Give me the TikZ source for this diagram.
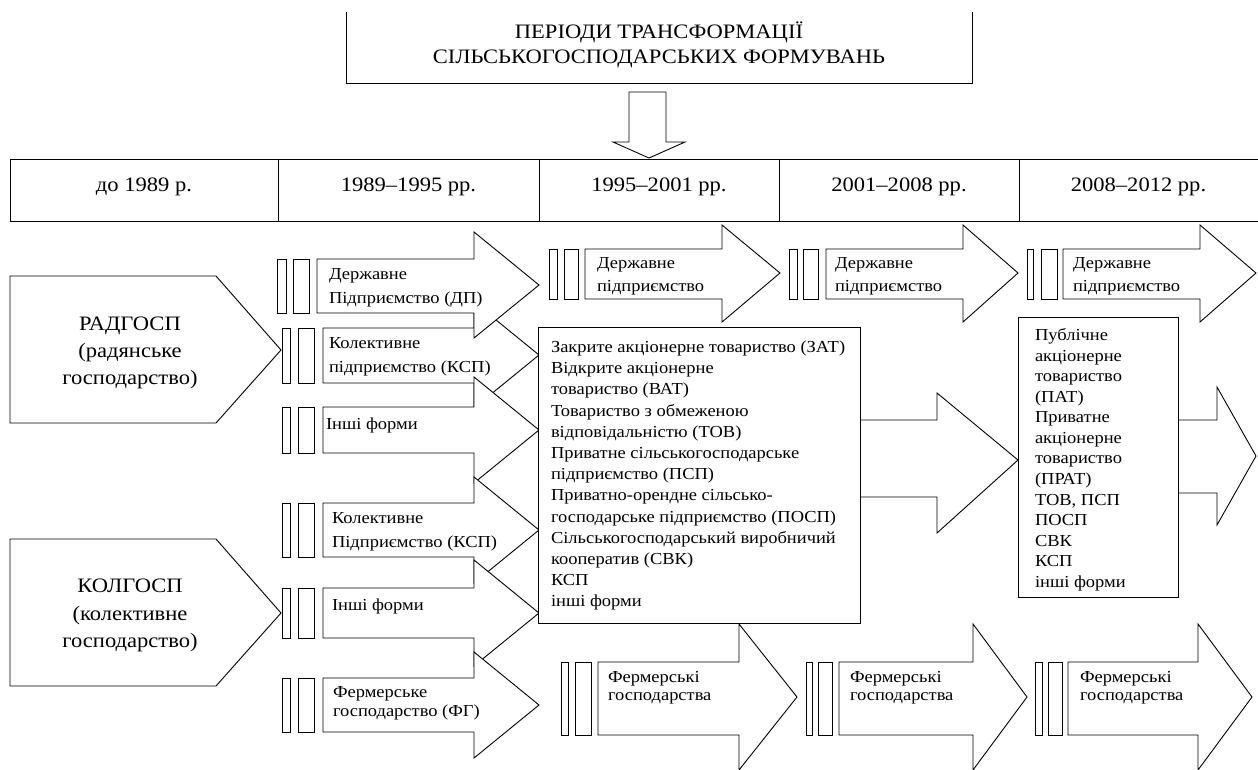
\documentclass[tikz,border=0pt]{standalone}
\usepackage{fontspec}
\setmainfont{Liberation Serif}[FakeStretch=1.1]
\newcommand\fsmall{\fontsize{16.8}{19}\selectfont}
\newcommand\fbig{\fontsize{20.5}{24}\selectfont}
% block arrow: xl, xb, xt, body top, body bottom, head top, head bottom, tip y
\newcommand\blockarrow[8]{\draw[shp] (#1,#4) -- (#2,#4) -- (#2,#6) -- (#3,#8) -- (#2,#7) -- (#2,#5) -- (#1,#5) -- cycle;}
% two thin bars: x1a x1b x2a x2b top bottom
\newcommand\twobars[6]{\draw[shp] (#1,#5) rectangle (#2,#6); \draw[shp] (#3,#5) rectangle (#4,#6);}
\begin{document}
\begin{tikzpicture}[x=1pt,y=-1pt,
  shp/.style={draw=black, line width=0.9pt, fill=white, line join=miter},
  ln/.style={draw=black, line width=0.9pt},
  txt/.style={inner sep=0pt, outer sep=0pt, text=black},
  sm/.style={txt, font=\fsmall, anchor=base west},
  bg/.style={txt, font=\fbig, anchor=base}]
\useasboundingbox (0,0) rectangle (1258,769);
\fill[white] (0,0) rectangle (1258,769);
\begin{scope}
\clip (0,0) rectangle (1258,769);

% ---- title box
\draw[ln] (346,12) -- (346,83) -- (972,83) -- (972,12);
\node[bg] (t1) at (659,38) {ПЕРІОДИ ТРАНСФОРМАЦІЇ};
\node[bg] (t2) at (659,63) {СІЛЬСЬКОГОСПОДАРСЬКИХ ФОРМУВАНЬ};
% down arrow
\draw[shp] (629,92) -- (666,92) -- (666,142) -- (685,142) -- (649,158) -- (613,142) -- (629,142) -- cycle;

% ---- header row
\draw[ln] (1262,159) -- (10,159) -- (10,221) -- (1262,221);
\foreach \x in {278,539,779,1019} \draw[ln] (\x,159) -- (\x,221);
\node[bg] (h1) at (144,191) {до 1989 р.};
\node[bg] (h2) at (408.5,191) {1989–1995 рр.};
\node[bg] (h3) at (659,191) {1995–2001 рр.};
\node[bg] (h4) at (899,191) {2001–2008 рр.};
\node[bg] (h5) at (1138.5,191) {2008–2012 рр.};

% ---- column 1 pentagons
\draw[shp] (10,276) -- (216,276) -- (281,350) -- (216,423) -- (10,423) -- cycle;
\node[bg] (r1) at (130,330) {РАДГОСП};
\node[bg] (r2) at (130,357) {(радянське};
\node[bg] (r3) at (130,384) {господарство)};
\draw[shp] (10,539) -- (216,539) -- (281,613) -- (216,686) -- (10,686) -- cycle;
\node[bg] (k1) at (130,592) {КОЛГОСП};
\node[bg] (k2) at (130,620) {(колективне};
\node[bg] (k3) at (130,647) {господарство)};

% ---- column 2
\blockarrow{323}{474}{539}{328}{383}{302}{408}{355}
\twobars{282}{290}{298}{314}{328}{383}
\blockarrow{317}{474}{539}{259}{313}{232}{338}{285}
\twobars{277}{286}{293}{309}{259}{313}
\blockarrow{323}{474}{539}{407}{453}{377}{483}{430}
\twobars{282}{290}{298}{314}{407}{453}
\blockarrow{323}{474}{539}{503}{557}{477}{583}{530}
\twobars{282}{290}{298}{314}{503}{557}
\blockarrow{323}{474}{539}{588}{638}{560}{666}{613}
\twobars{282}{290}{298}{314}{588}{638}
\blockarrow{323}{474}{539}{678}{732}{652}{758}{705}
\twobars{282}{290}{298}{314}{678}{732}

\node[sm] (a1) at (329,279.5) {Державне};
\node[sm] (a2) at (329,303.5) {Підприємство (ДП)};
\node[sm] (b1) at (329,348.5) {Колективне};
\node[sm] (b2) at (329,372.5) {підприємство (КСП)};
\node[sm] (c1) at (326,429.5) {Інші форми};
\node[sm] (d1) at (332,523.5) {Колективне};
\node[sm] (d2) at (332,547.5) {Підприємство (КСП)};
\node[sm] (e1) at (332,610.5) {Інші форми};
\node[sm] (f1) at (333,697.5) {Фермерське};
\node[sm] (f2) at (333,716.5) {господарство (ФГ)};

% ---- columns 3-5 : big arrows under boxes
\blockarrow{845}{937}{1018}{420}{497}{393}{533}{460}
\blockarrow{598}{739}{797}{662}{735}{624}{770}{697}
\twobars{561}{568}{575}{591}{662}{735}
\draw[shp] (538,327) rectangle (860,623);
\foreach \s [count=\i] in {Закрите акціонерне товариство (ЗАТ), Відкрите акціонерне, товариство (ВАТ), Товариство з обмеженою, відповідальністю (ТОВ), Приватне сільськогосподарське, підприємство (ПСП), Приватно-орендне сільсько-, господарське підприємство (ПОСП), Сільськогосподарський виробничий, кооператив (СВК), КСП, інші форми}
  \node[sm] (m\i) at (551,{352.5+21.2*(\i-1)}) {\s};

\blockarrow{839}{973}{1027}{662}{735}{624}{770}{697}
\twobars{806}{812}{818}{832}{662}{735}
\blockarrow{1150}{1217}{1256}{420}{493}{387}{525}{456}
\draw[shp] (1018,317) rectangle (1178,597);
\foreach \s [count=\i] in {Публічне, акціонерне, товариство, (ПАТ), Приватне, акціонерне, товариство, (ПРАТ), {ТОВ, ПСП}, ПОСП, СВК, КСП, інші форми}
  \node[sm] (p\i) at (1035,{340.5+20.58*(\i-1)}) {\s};
\blockarrow{1068}{1198}{1252}{662}{735}{624}{770}{697}
\twobars{1035}{1042}{1048}{1062}{662}{735}

% Державне підприємство arrows
\blockarrow{585}{722}{780}{249}{299}{225}{322}{273}
\twobars{549}{557}{564}{578}{249}{299}
\blockarrow{826}{963}{1018}{249}{299}{225}{322}{273}
\twobars{789}{797}{803}{818}{249}{299}
\blockarrow{1063}{1200}{1256}{249}{299}{225}{322}{273}
\twobars{1027}{1033}{1041}{1057}{249}{299}
\node[sm] (g1) at (597,268.5) {Державне};
\node[sm] (g2) at (597,291.5) {підприємство};
\node[sm] (g3) at (835,268.5) {Державне};
\node[sm] (g4) at (835,291.5) {підприємство};
\node[sm] (g5) at (1073,268.5) {Державне};
\node[sm] (g6) at (1073,291.5) {підприємство};

% Фермерські господарства labels
\node[sm] (q1) at (608,682.5) {Фермерські};
\node[sm] (q2) at (608,700.5) {господарства};
\node[sm] (q3) at (850,682.5) {Фермерські};
\node[sm] (q4) at (850,700.5) {господарства};
\node[sm] (q5) at (1080,682.5) {Фермерські};
\node[sm] (q6) at (1080,700.5) {господарства};
\end{scope}
\end{tikzpicture}
\end{document}
